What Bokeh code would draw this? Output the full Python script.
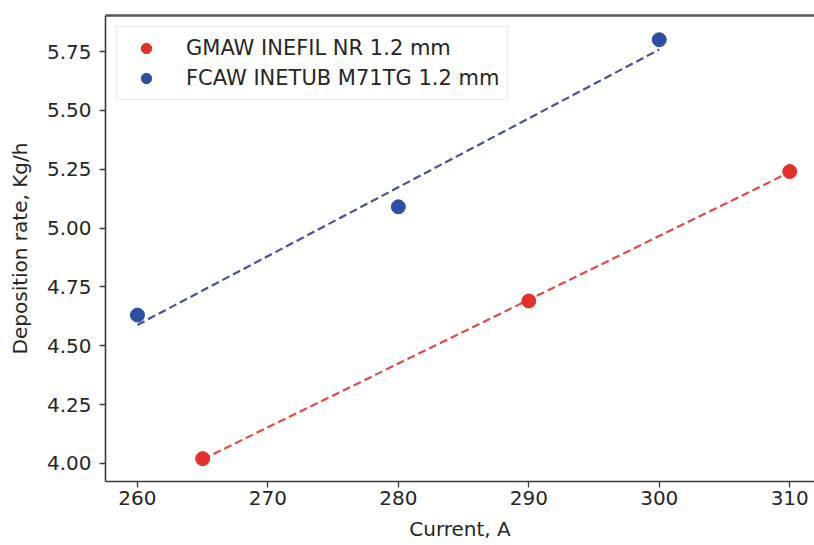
import numpy as np
from bokeh.plotting import figure
from bokeh.models import Range1d, LinearAxis, FixedTicker, Legend, LegendItem, CustomJSTickFormatter
from bokeh.embed import file_html
from bokeh.resources import INLINE

# Data
gmaw_current = [265, 290, 310]
gmaw_rate = [4.02, 4.69, 5.24]
fcaw_current = [260, 280, 300]
fcaw_rate = [4.63, 5.09, 5.80]
x_ticks = [260, 270, 280, 290, 300, 310]
y_ticks = [4.00, 4.25, 4.50, 4.75, 5.00, 5.25, 5.50, 5.75]
gmaw_label = "GMAW INEFIL NR 1.2 mm"
fcaw_label = "FCAW INETUB M71TG 1.2 mm"

RED = "#e4302b"
BLUE = "#2d4fa3"
RED_LINE = "#e44848"
BLUE_LINE = "#4b4f9f"
AXIS = "#3a3a3a"
TEXT = "#262626"
FONT = "DejaVu Sans"

p = figure(width=814, height=545, output_backend="svg", toolbar_location=None,
           x_range=Range1d(257.55, 311.9), y_range=Range1d(3.923, 5.903),
           min_border_left=105, min_border_right=0, min_border_top=15, min_border_bottom=64)
p.outline_line_color = None
p.xgrid.visible = False
p.ygrid.visible = False
p.background_fill_color = "white"

# trend lines (least-squares fits of each series)
for xs, ys, col in [(gmaw_current, gmaw_rate, RED_LINE), (fcaw_current, fcaw_rate, BLUE_LINE)]:
    k, b = np.polyfit(xs, ys, 1)
    lx = [min(xs), max(xs)]
    ly = [k * v + b for v in lx]
    p.line(lx, ly, line_color=col, line_width=2.2, line_dash="8 4")

r1 = p.scatter(gmaw_current, gmaw_rate, size=14, fill_color=RED, line_color=RED)
r2 = p.scatter(fcaw_current, fcaw_rate, size=14, fill_color=BLUE, line_color=BLUE)

legend = Legend(items=[LegendItem(label=gmaw_label, renderers=[r1]),
                       LegendItem(label=fcaw_label, renderers=[r2])])
legend.location = "top_left"
legend.margin = 11
legend.padding = 8
legend.spacing = 4
legend.glyph_width = 42
legend.glyph_height = 26
legend.label_height = 26
legend.label_standoff = 19
legend.label_text_font = FONT
legend.label_text_font_size = "21px"
legend.label_text_color = TEXT
legend.border_line_color = "#d8d8d8"
legend.border_line_width = 1.5
legend.background_fill_alpha = 0.9
p.add_layout(legend)

for ax in (p.xaxis[0], p.yaxis[0]):
    ax.axis_line_color = AXIS
    ax.axis_line_width = 1.6
    ax.major_tick_line_color = AXIS
    ax.major_tick_line_width = 1.3
    ax.major_tick_out = 6
    ax.major_tick_in = 0
    ax.minor_tick_line_color = None
    ax.major_label_text_font = FONT
    ax.major_label_text_font_size = "20px"
    ax.major_label_text_color = TEXT
    ax.axis_label_text_font = FONT
    ax.axis_label_text_font_size = "20px"
    ax.axis_label_text_font_style = "normal"
    ax.axis_label_text_color = TEXT

p.xaxis[0].ticker = FixedTicker(ticks=x_ticks)
p.yaxis[0].ticker = FixedTicker(ticks=y_ticks)
p.yaxis[0].formatter = CustomJSTickFormatter(code="return tick.toFixed(2);")
p.xaxis[0].axis_label = "Current, A"
p.yaxis[0].axis_label = "Deposition rate, Kg/h"
p.xaxis[0].major_label_standoff = 3
p.yaxis[0].major_label_standoff = 8
p.xaxis[0].axis_label_standoff = 9
p.yaxis[0].axis_label_standoff = 12

top = LinearAxis(ticker=FixedTicker(ticks=[]), major_label_text_font_size="0px",
                 axis_line_color="#555555", axis_line_width=2.5,
                 major_tick_line_color=None, minor_tick_line_color=None)
p.add_layout(top, "above")

open("out.html", "w").write(file_html(p, INLINE))
